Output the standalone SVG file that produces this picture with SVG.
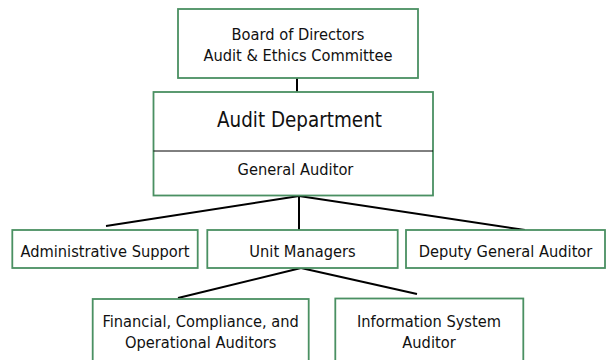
<svg xmlns="http://www.w3.org/2000/svg" width="606" height="360" viewBox="0 0 606 360">
<style>
.box{fill:#fff;stroke:#4a9062;stroke-width:1.8}
.t{font-family:"DejaVu Sans Condensed","DejaVu Sans",sans-serif;font-stretch:condensed;font-size:16.3px;fill:#111;text-anchor:middle}
.big{font-size:20.4px}
.c{stroke:#000;stroke-width:2;fill:none}
</style>
<rect width="606" height="360" fill="#fff"/>
<g id="connectors">
<line class="c" x1="297" y1="78" x2="297" y2="92"/>
<line class="c" x1="299" y1="196" x2="299" y2="230"/>
<line class="c" x1="299" y1="196" x2="106" y2="226"/>
<line class="c" x1="299" y1="196" x2="525" y2="230"/>
<line class="c" x1="301" y1="268" x2="178" y2="298"/>
<line class="c" x1="301" y1="268" x2="417" y2="294"/>
</g>
<g id="board">
<rect class="box" x="178" y="9" width="240" height="69"/>
<text class="t" x="298" y="39.5">Board of Directors</text>
<text class="t" x="298" y="61">Audit &amp; Ethics Committee</text>
</g>
<g id="audit">
<rect class="box" x="153.5" y="92" width="279.5" height="103.5"/>
<line x1="153.5" y1="151" x2="433" y2="151" stroke="#000" stroke-width="1"/>
<text class="t big" x="299.5" y="127">Audit Department</text>
<text class="t" x="295.5" y="174.5">General Auditor</text>
</g>
<g id="admin">
<rect class="box" x="12.3" y="230" width="185.4" height="38"/>
<text class="t" x="105" y="257">Administrative Support</text>
</g>
<g id="unit">
<rect class="box" x="207.3" y="230" width="190.4" height="38"/>
<text class="t" x="302.5" y="257">Unit Managers</text>
</g>
<g id="deputy">
<rect class="box" x="406" y="230" width="199" height="38"/>
<text class="t" x="505.5" y="257">Deputy General Auditor</text>
</g>
<g id="financial">
<rect class="box" x="92.7" y="299" width="216" height="70"/>
<text class="t" x="200.7" y="327">Financial, Compliance, and</text>
<text class="t" x="200.7" y="347.5">Operational Auditors</text>
</g>
<g id="info">
<rect class="box" x="335.3" y="298.5" width="188" height="70"/>
<text class="t" x="429" y="327">Information System</text>
<text class="t" x="429" y="347.5">Auditor</text>
</g>
</svg>
